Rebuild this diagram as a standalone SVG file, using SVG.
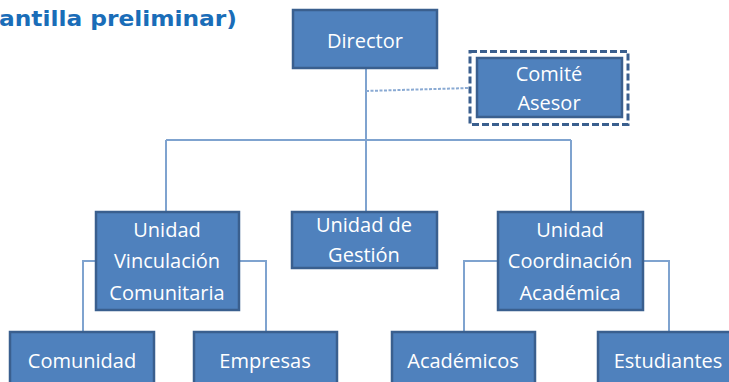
<svg xmlns="http://www.w3.org/2000/svg" width="729" height="382" viewBox="0 0 729 382">
<style>
.box{fill:#4F81BD;stroke:#3A5F8E;stroke-width:2.5}
.t{font-family:"Open Sans","Liberation Sans",sans-serif;font-size:20px;fill:#FFFFFF;text-anchor:middle;dominant-baseline:central}
.ln{fill:none;stroke:#7FA3CF;stroke-width:2}
</style>
<rect width="729" height="382" fill="#FFFFFF"/>
<text x="-1" y="26" font-family="'DejaVu Sans',Verdana,sans-serif" font-weight="bold" font-size="21" fill="#1A6DB8" textLength="238" lengthAdjust="spacingAndGlyphs">antilla preliminar)</text>
<g id="connectors">
<path class="ln" d="M366 68 V140 M166 140 H571 M166 140 V212 M366 140 V212 M571 140 V212"/>
<path d="M366 91 L469 88" fill="none" stroke="#8AAAD3" stroke-width="2" stroke-dasharray="3,1.5"/>
<path class="ln" d="M96 261 H83 V332 M239 261 H266 V332 M498 261 H464 V332 M643 261 H669 V332"/>
</g>
<g id="director"><rect class="box" x="293" y="10" width="144" height="58"/><text class="t" x="365" y="40">Director</text></g>
<g id="comite">
<rect x="470" y="51.5" width="158" height="73" fill="none" stroke="#3A5F8E" stroke-width="3" stroke-dasharray="7,3"/>
<rect class="box" x="477" y="58" width="145" height="59"/>
<text class="t" x="549" y="73">Comité</text><text class="t" x="549" y="102">Asesor</text></g>
<g id="vinculacion"><rect class="box" x="96" y="212" width="143" height="98"/>
<text class="t" x="167" y="229">Unidad</text><text class="t" x="167" y="260">Vinculación</text><text class="t" x="167" y="292">Comunitaria</text></g>
<g id="gestion"><rect class="box" x="292" y="212" width="145" height="56"/>
<text class="t" x="364" y="224">Unidad de</text><text class="t" x="364" y="254">Gestión</text></g>
<g id="coordinacion"><rect class="box" x="498" y="212" width="145" height="98"/>
<text class="t" x="570" y="229">Unidad</text><text class="t" x="570" y="260">Coordinación</text><text class="t" x="570" y="292">Académica</text></g>
<g id="comunidad"><rect class="box" x="10" y="332" width="144" height="60"/><text class="t" x="82" y="360">Comunidad</text></g>
<g id="empresas"><rect class="box" x="194" y="332" width="143" height="60"/><text class="t" x="265" y="360">Empresas</text></g>
<g id="academicos"><rect class="box" x="392" y="332" width="143" height="60"/><text class="t" x="463" y="360">Académicos</text></g>
<g id="estudiantes"><rect class="box" x="598" y="332" width="150" height="60"/><text class="t" x="668" y="360">Estudiantes</text></g>
</svg>
